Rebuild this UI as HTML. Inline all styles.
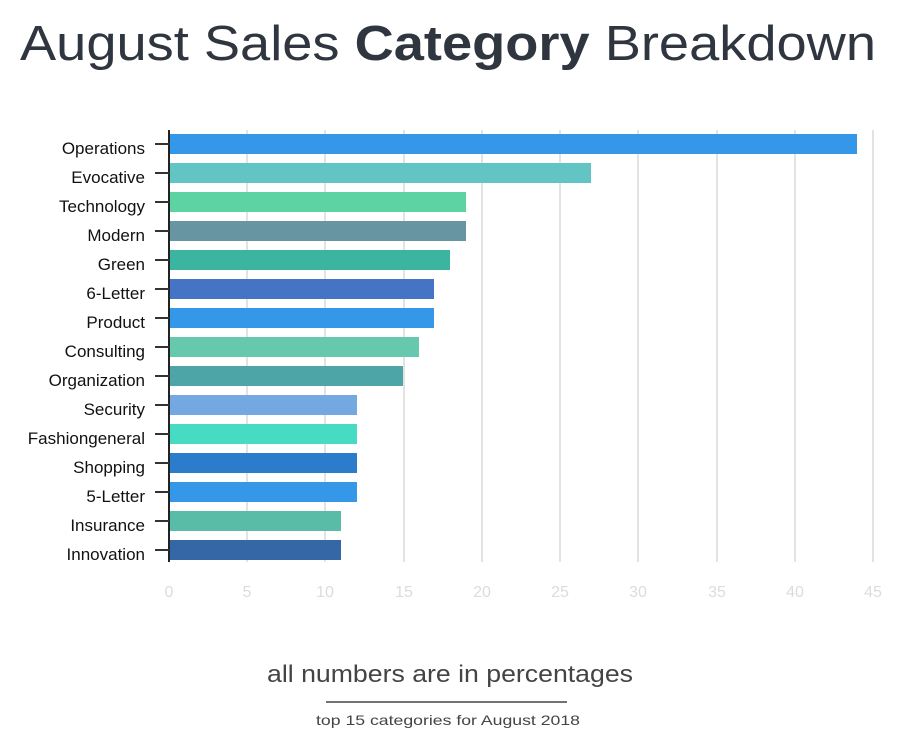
<!DOCTYPE html>
<html><head><meta charset="utf-8"><style>
body{margin:0;background:#fff;width:900px;height:746px;overflow:hidden;font-family:"Liberation Sans",sans-serif;}
</style></head><body>
<svg width="900" height="746" viewBox="0 0 900 746" xmlns="http://www.w3.org/2000/svg" font-family="Liberation Sans, sans-serif">
<text x="448" y="60" text-anchor="middle" font-size="49" fill="#2f3640" textLength="856" lengthAdjust="spacingAndGlyphs" font-weight="300">August Sales <tspan font-weight="bold">Category</tspan> Breakdown</text>
<g stroke="#e3e3e3" stroke-width="2">
<line x1="247" y1="130" x2="247" y2="562"/><line x1="325" y1="130" x2="325" y2="562"/><line x1="404" y1="130" x2="404" y2="562"/><line x1="482" y1="130" x2="482" y2="562"/><line x1="560" y1="130" x2="560" y2="562"/><line x1="638" y1="130" x2="638" y2="562"/><line x1="717" y1="130" x2="717" y2="562"/><line x1="795" y1="130" x2="795" y2="562"/><line x1="873" y1="130" x2="873" y2="562"/>
</g>
<g font-size="16" fill="#dcdcdc" text-anchor="middle">
<text x="169" y="597">0</text><text x="247" y="597">5</text><text x="325" y="597">10</text><text x="404" y="597">15</text><text x="482" y="597">20</text><text x="560" y="597">25</text><text x="638" y="597">30</text><text x="717" y="597">35</text><text x="795" y="597">40</text><text x="873" y="597">45</text>
</g>
<g>
<rect x="169" y="134" width="688" height="20" fill="#3597e8"/>
<rect x="169" y="163" width="422" height="20" fill="#62c5c3"/>
<rect x="169" y="192" width="297" height="20" fill="#5dd3a3"/>
<rect x="169" y="221" width="297" height="20" fill="#6796a2"/>
<rect x="169" y="250" width="281" height="20" fill="#3bb5a0"/>
<rect x="169" y="279" width="265" height="20" fill="#4674c4"/>
<rect x="169" y="308" width="265" height="20" fill="#3597e8"/>
<rect x="169" y="337" width="250" height="20" fill="#66c9ae"/>
<rect x="169" y="366" width="234" height="20" fill="#4ea5a8"/>
<rect x="169" y="395" width="188" height="20" fill="#74a8e0"/>
<rect x="169" y="424" width="188" height="20" fill="#47dbc3"/>
<rect x="169" y="453" width="188" height="20" fill="#2b7dcb"/>
<rect x="169" y="482" width="188" height="20" fill="#3597e8"/>
<rect x="169" y="511" width="172" height="20" fill="#58bca6"/>
<rect x="169" y="540" width="172" height="20" fill="#3566a5"/>
</g>
<line x1="169" y1="130" x2="169" y2="562" stroke="#222" stroke-width="2"/>
<g stroke="#333" stroke-width="2">
<line x1="155" y1="144" x2="169" y2="144"/><line x1="155" y1="173" x2="169" y2="173"/><line x1="155" y1="202" x2="169" y2="202"/><line x1="155" y1="231" x2="169" y2="231"/><line x1="155" y1="260" x2="169" y2="260"/><line x1="155" y1="289" x2="169" y2="289"/><line x1="155" y1="318" x2="169" y2="318"/><line x1="155" y1="347" x2="169" y2="347"/><line x1="155" y1="376" x2="169" y2="376"/><line x1="155" y1="405" x2="169" y2="405"/><line x1="155" y1="434" x2="169" y2="434"/><line x1="155" y1="463" x2="169" y2="463"/><line x1="155" y1="492" x2="169" y2="492"/><line x1="155" y1="521" x2="169" y2="521"/><line x1="155" y1="550" x2="169" y2="550"/>
</g>
<g font-size="17" fill="#111" text-anchor="end">
<text x="145" y="154">Operations</text><text x="145" y="183">Evocative</text><text x="145" y="212">Technology</text><text x="145" y="241">Modern</text><text x="145" y="270">Green</text><text x="145" y="299">6-Letter</text><text x="145" y="328">Product</text><text x="145" y="357">Consulting</text><text x="145" y="386">Organization</text><text x="145" y="415">Security</text><text x="145" y="444">Fashiongeneral</text><text x="145" y="473">Shopping</text><text x="145" y="502">5-Letter</text><text x="145" y="531">Insurance</text><text x="145" y="560">Innovation</text>
</g>
<text x="450" y="682" text-anchor="middle" font-size="24" fill="#444" textLength="366" lengthAdjust="spacingAndGlyphs">all numbers are in percentages</text>
<line x1="326" y1="702" x2="567" y2="702" stroke="#444" stroke-width="1.5"/>
<text x="448" y="725" text-anchor="middle" font-size="14" fill="#444" textLength="264" lengthAdjust="spacingAndGlyphs">top 15 categories for August 2018</text>
</svg>
</body></html>
